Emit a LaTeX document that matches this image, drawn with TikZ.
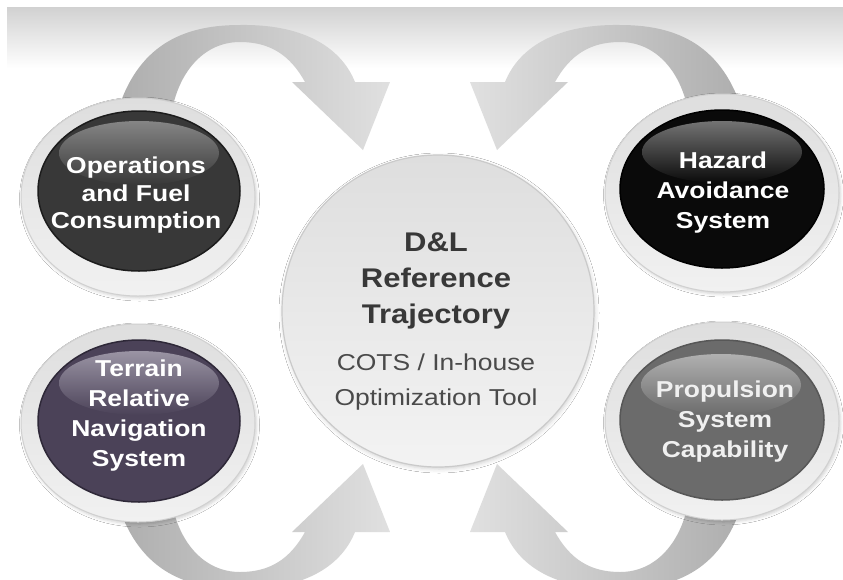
\documentclass[tikz,border=0pt]{standalone}
\usepackage{fontspec}
\setmainfont{Liberation Sans}[FakeStretch=1.15]
\usetikzlibrary{shadows.blur}

\definecolor{bandtop}{HTML}{D1D1D1}
\definecolor{arrdark}{HTML}{AEAEAE}
\definecolor{arrlight}{HTML}{E0E0E0}
\definecolor{ringtop}{HTML}{DEDEDE}
\definecolor{ringbot}{HTML}{F1F1F1}
\definecolor{ringedge}{HTML}{D0D0D0}
\definecolor{coretop}{HTML}{DEDEDE}
\definecolor{corebot}{HTML}{F3F3F3}
\definecolor{coreedge}{HTML}{CACACA}
\definecolor{opsbase}{HTML}{383838}
\definecolor{opsrim}{HTML}{1C1C1C}
\definecolor{opsgloss}{HTML}{858585}
\definecolor{hazbase}{HTML}{0A0A0A}
\definecolor{hazrim}{HTML}{000000}
\definecolor{hazgloss}{HTML}{737373}
\definecolor{trnbase}{HTML}{4B4258}
\definecolor{trnrim}{HTML}{2E2838}
\definecolor{trngloss}{HTML}{9A94A4}
\definecolor{prpbase}{HTML}{6B6B6B}
\definecolor{prprim}{HTML}{575757}
\definecolor{prpgloss}{HTML}{B0B0B0}
\definecolor{titletxt}{HTML}{383838}
\definecolor{subtxt}{HTML}{4A4A4A}

% outline of the upper-left bent arrow; the other three are mirror copies
\def\bendarrow{(118,110) .. controls (140,40) and (190,25) .. (240,25)
  .. controls (300,24) and (340,45) .. (355,82) -- (390,82) -- (363,150)
  -- (292,82) -- (305,82) .. controls (290,55) and (270,42) .. (240,42)
  .. controls (205,42) and (180,70) .. (172,110) -- cycle}

\begin{document}
\begin{tikzpicture}[x=1pt,y=-1pt,
  ring/.style={top color=ringtop, bottom color=ringbot, draw=ringedge, line width=1pt,
    blur shadow={shadow xshift=1.5pt, shadow yshift=-2pt, shadow blur radius=3pt, shadow opacity=18}},
  lbl/.style={align=center, inner sep=0pt, anchor=north, execute at begin node=\strut},
  smalltxt/.style={lbl, text=white, font=\bfseries\fontsize{23}{30}\selectfont}]
\useasboundingbox (0,0) rectangle (843,579);
\fill[white] (0,0) rectangle (843,579);
\shade[top color=bandtop, bottom color=white] (7,7) rectangle (843,68);

% four bent arrows feeding the central circle
\shade[left color=arrdark, right color=arrlight] \bendarrow;
\begin{scope}[shift={(860,0)}, xscale=-1]
  \shade[left color=arrlight, right color=arrdark] \bendarrow;
\end{scope}
\begin{scope}[shift={(0,614)}, yscale=-1]
  \shade[left color=arrdark, right color=arrlight] \bendarrow;
\end{scope}
\begin{scope}[shift={(860,614)}, xscale=-1, yscale=-1]
  \shade[left color=arrlight, right color=arrdark] \bendarrow;
\end{scope}

% central circle
\node[circle, minimum size=312pt, inner sep=0pt, top color=coretop, bottom color=corebot,
  draw=coreedge, line width=1.2pt,
  blur shadow={shadow xshift=1pt, shadow yshift=-2pt, shadow blur radius=4pt, shadow opacity=18}]
  (core) at (438,311) {};

% outer rings
\path[ring] (138,197) ellipse [x radius=117, y radius=99];
\path[ring] (722,193) ellipse [x radius=117, y radius=99];
\path[ring] (138,423) ellipse [x radius=117, y radius=99];
\path[ring] (722,421) ellipse [x radius=117, y radius=99];

% dark glossy discs
\path[fill=opsbase, draw=opsrim, line width=1.5pt] (139,191) ellipse [x radius=101, y radius=80];
\shade[top color=opsgloss, bottom color=opsbase] (139,153) ellipse [x radius=80, y radius=32];
\path[fill=hazbase, draw=hazrim, line width=1.5pt] (722,189) ellipse [x radius=102, y radius=79];
\shade[top color=hazgloss, bottom color=hazbase] (722,152) ellipse [x radius=80, y radius=31];
\path[fill=trnbase, draw=trnrim, line width=1.5pt] (139,421) ellipse [x radius=101, y radius=81];
\shade[top color=trngloss, bottom color=trnbase] (139,383) ellipse [x radius=80, y radius=32];
\path[fill=prpbase, draw=prprim, line width=1.5pt] (722,420) ellipse [x radius=102, y radius=80];
\shade[top color=prpgloss, bottom color=prpbase] (721,385) ellipse [x radius=80, y radius=31];

% labels
\node[smalltxt, font=\bfseries\fontsize{23}{27.5}\selectfont] (ops) at (136,157)
  {Operations\\and Fuel\\Consumption};
\node[smalltxt] (haz) at (723,152) {Hazard\\Avoidance\\System};
\node[smalltxt] (trn) at (139,360) {Terrain\\Relative\\Navigation\\System};
\node[smalltxt, text=white!94!black] (prp) at (725,381) {Propulsion\\System\\Capability};

\node[lbl, text=titletxt, font=\bfseries\fontsize{27}{36}\selectfont] (title) at (436,232.5)
  {D\&L\\Reference\\Trajectory};
\node[lbl, text=subtxt, font=\fontsize{23}{35}\selectfont] (tool) at (436,354)
  {COTS / In-house\\Optimization Tool};
\end{tikzpicture}
\end{document}
